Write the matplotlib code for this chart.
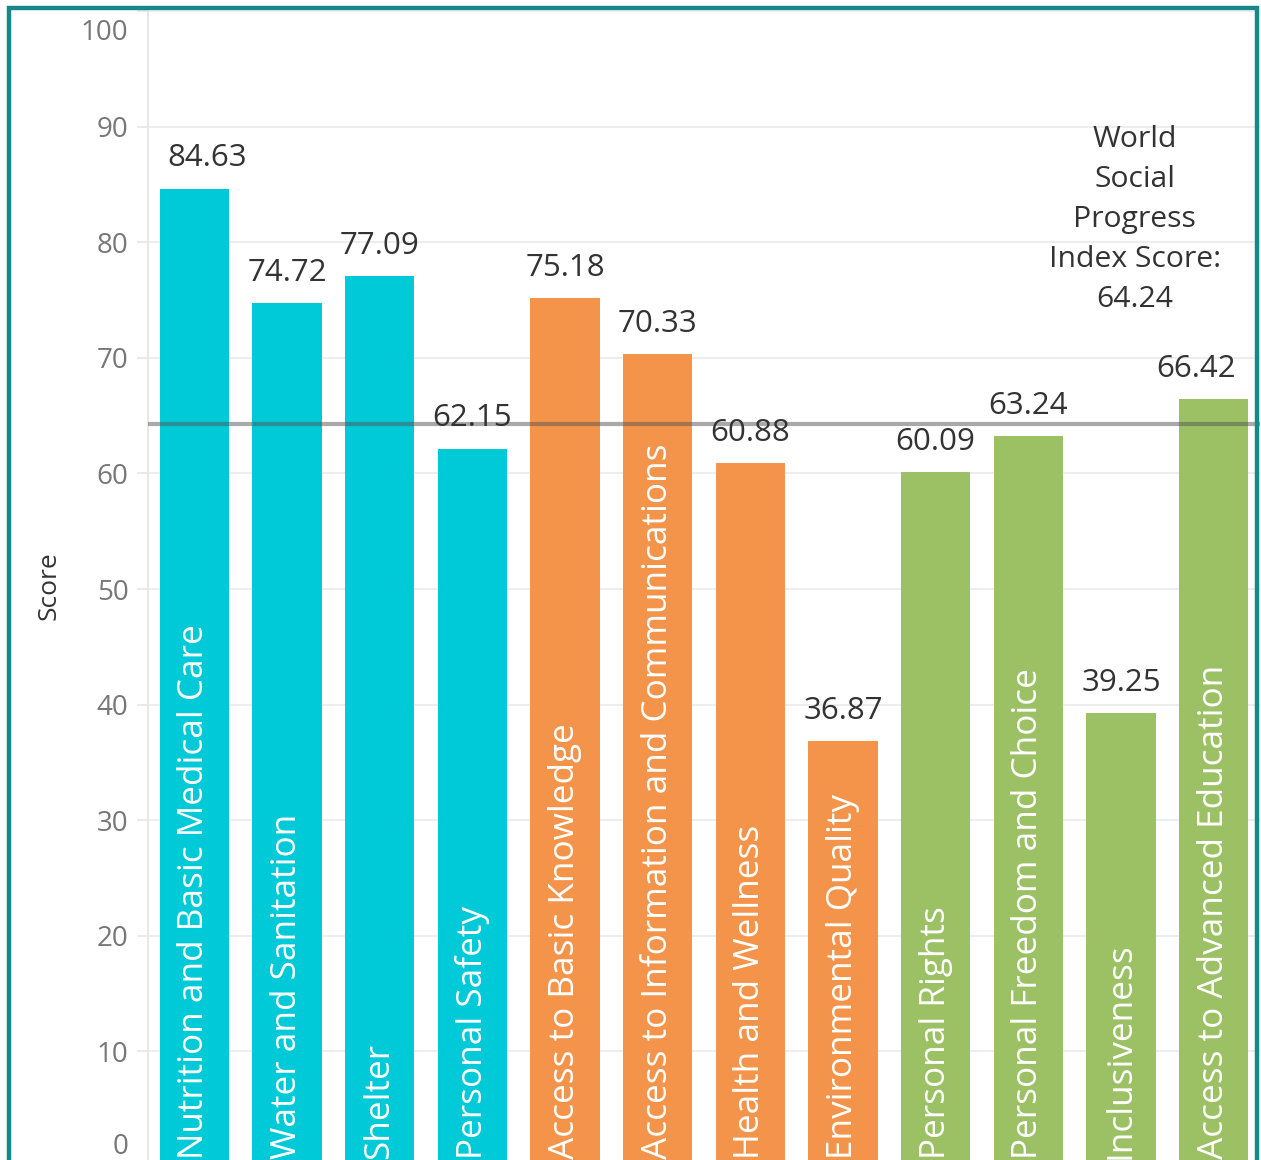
import numpy as np
import matplotlib
matplotlib.use("Agg")
import matplotlib.pyplot as plt
from matplotlib.patches import Rectangle

# --- data ---
components = [
    "Nutrition and Basic Medical Care", "Water and Sanitation", "Shelter",
    "Personal Safety", "Access to Basic Knowledge",
    "Access to Information and Communications", "Health and Wellness",
    "Environmental Quality", "Personal Rights", "Personal Freedom and Choice",
    "Inclusiveness", "Access to Advanced Education",
]
scores = [84.63, 74.72, 77.09, 62.15, 75.18, 70.33, 60.88, 36.87,
          60.09, 63.24, 39.25, 66.42]
dimension = ["basic"] * 4 + ["wellbeing"] * 4 + ["opportunity"] * 4
world_score = 64.24
y_ticks = [0, 10, 20, 30, 40, 50, 60, 70, 80, 90, 100]

dim_colors = {"basic": "#00C9D8", "wellbeing": "#F4944B", "opportunity": "#9CC165"}
FONT = ["Open Sans", "DejaVu Sans"]
plt.rcParams["font.family"] = FONT

W, H = 1261, 1160
fig = plt.figure(figsize=(W / 100, H / 100), dpi=100)
# plot area: x 148..1260 px, y=100 at 11 px, y=0 at 1167 px (bottom is cut off)
ax = fig.add_axes([148 / W, (H - 1167) / H, 1112 / W, 1156 / H])

x = np.arange(len(scores))
colors = [dim_colors[d] for d in dimension]
ax.bar(x, scores, width=0.745, color=colors, zorder=2)

ax.set_xlim(-0.5, len(scores) - 0.5)
ax.set_ylim(0, 100)
ax.set_yticks(y_ticks)
# the edge labels (0 and 100) are drawn separately, pulled inside the frame
ax.set_yticklabels(["" if t in (y_ticks[0], y_ticks[-1]) else str(t) for t in y_ticks])
ax.set_xticks([])
ax.grid(axis="y", color="#ececec", linewidth=1.3, zorder=0)
for s in ["top", "right", "bottom"]:
    ax.spines[s].set_visible(False)
ax.spines["left"].set_color("#e6e6e6")
ax.spines["left"].set_linewidth(1.3)
ax.tick_params(axis="y", length=8, width=1.2, color="#e6e6e6", pad=6,
               labelsize=20, labelcolor="#777777")

for t, dy in [(y_ticks[-1], -16), (y_ticks[0], 14.4)]:
    ax.annotate(str(t), (0, t), xycoords=("axes fraction", "data"),
                xytext=(-14, dy), textcoords="offset points",
                ha="right", va="center", fontsize=20, color="#777777")

ax.set_ylabel("Score", fontsize=19, color="#333333")
ax.yaxis.set_label_coords(-0.078, 0.503)

# world average line
ax.axhline(world_score, color="#555555", alpha=0.5, linewidth=3, zorder=3)

# value labels (first and last nudged like the reference)
nudge = {0: 9, len(scores) - 1: -13}
for i, v in enumerate(scores):
    ax.annotate(f"{v:.2f}", (x[i], v), xytext=(nudge.get(i, 0), 16),
                textcoords="offset points", ha="center", va="baseline",
                fontsize=22.5, color="#333333", zorder=4)

# names inside bars
for i, name in enumerate(components):
    ax.text(x[i], 0.7, name, rotation=90, ha="center", va="bottom",
            fontsize=25.3, color="white", zorder=4)

ax.text(10.15, 81.95, "World\nSocial\nProgress\nIndex Score:\n" + f"{world_score:.2f}",
        ha="center", va="center", multialignment="center", fontsize=21.7,
        color="#333333", linespacing=1.5, zorder=4)

# teal frame
fig.patches.append(Rectangle((9 / W, -0.05), (W - 2 - 9 - 2) / W, 1.05 - 8 / H,
                             transform=fig.transFigure, fill=False,
                             edgecolor="#17878C", linewidth=3.2, zorder=10))

fig.savefig("out.png", dpi=100)
